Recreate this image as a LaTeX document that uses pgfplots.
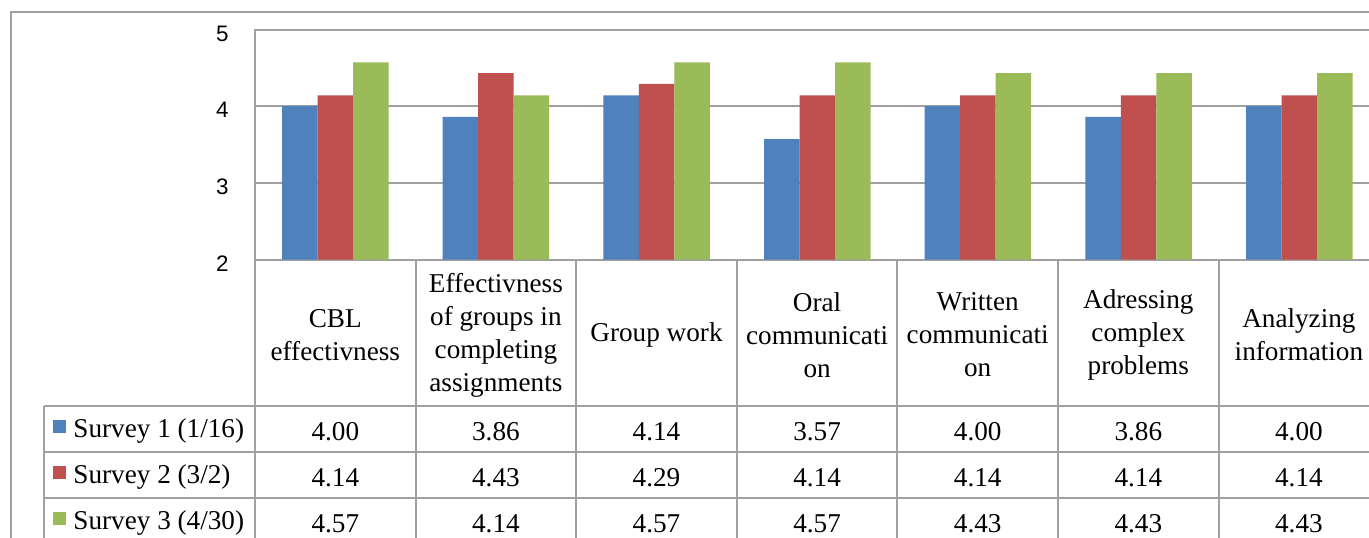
\documentclass[border=0pt]{standalone}
\usepackage{fontspec}
\setmainfont{Liberation Serif}
\newfontfamily\numfont{Liberation Sans}
\usepackage{pgfplots}
\pgfplotsset{compat=1.18}
\definecolor{sblue}{HTML}{4F81BD}
\definecolor{sred}{HTML}{C0504D}
\definecolor{sgreen}{HTML}{9BBB59}
\definecolor{gridgray}{HTML}{A0A0A0}
\begin{document}
\begin{tikzpicture}[x=0.5pt,y=0.5pt]
\begin{scope}
\clip (0,0) rectangle (1369,537);
\fill[white] (0,0) rectangle (1369,537);
% outer chart border
\draw[gridgray, line width=1pt] (11,-20) -- (11,524.5) -- (1420,524.5);
\begin{axis}[at={(127.5pt,138.75pt)}, anchor=south west, scale only axis,
  width=562.3pt, height=115pt, xmin=0, xmax=7, ymin=2, ymax=5,
  ybar=0pt, bar width=17.75pt,
  ytick={2,3,4,5}, yticklabels={2,3,4,5}, xtick=\empty,
  ymajorgrids, grid style={gridgray, line width=1pt},
  axis line style={gridgray, line width=1pt},
  major tick length=0pt,
  yticklabel style={font=\numfont\fontsize{11.2}{13}\selectfont, anchor=east, inner sep=0pt, xshift=-13pt, yshift=-2pt}]
\addplot[fill=sblue, draw=none] coordinates {(0.5,4.00) (1.5,3.86) (2.5,4.14) (3.5,3.57) (4.5,4.00) (5.5,3.86) (6.5,4.00)};
\addplot[fill=sred, draw=none] coordinates {(0.5,4.14) (1.5,4.43) (2.5,4.29) (3.5,4.14) (4.5,4.14) (5.5,4.14) (6.5,4.14)};
\addplot[fill=sgreen, draw=none] coordinates {(0.5,4.57) (1.5,4.14) (2.5,4.57) (3.5,4.57) (4.5,4.43) (5.5,4.43) (6.5,4.43)};
\end{axis}
% table grid
\foreach \k in {0,...,7} {
  \draw[gridgray, line width=1pt] ({255+160.6*\k},277.5) -- ({255+160.6*\k},-20);
}
\foreach \yy in {131,85,39} {
  \draw[gridgray, line width=1pt] (44,\yy) -- (1420,\yy);
}
\draw[gridgray, line width=1pt] (44,131) -- (44,-20);
% category headers
\begin{scope}[every node/.style={align=center, font=\fontsize{13.6}{16.5}\selectfont, inner sep=0pt}]
\node at (335.3,202) {CBL\\effectivness};
\node at (495.9,202) {Effectivness\\of groups in\\completing\\assignments};
\node at (656.5,202) {Group work};
\node at (817.1,202) {Oral\\communicati\\on};
\node at (977.7,202) {Written\\communicati\\on};
\node at (1138.3,202) {Adressing\\complex\\problems};
\node at (1298.9,202) {Analyzing\\information};
\end{scope}
% legend keys and labels
\fill[sblue] (53,104.5) rectangle (66,117.5);
\fill[sred] (53,58.5) rectangle (66,71.5);
\fill[sgreen] (53,12.5) rectangle (66,25.5);
\begin{scope}[every node/.style={anchor=base west, font=\fontsize{13.6}{16.5}\selectfont, inner sep=0pt}]
\node at (73,100) {Survey 1 (1/16)};
\node at (73,54) {Survey 2 (3/2)};
\node at (73,8) {Survey 3 (4/30)};
\end{scope}
% table values
\begin{scope}[every node/.style={anchor=base, font=\fontsize{13.6}{16.5}\selectfont, inner sep=0pt}]
\foreach \v [count=\i from 0] in {4.00,3.86,4.14,3.57,4.00,3.86,4.00} {
  \node at ({335.3+160.6*\i},97) {\v};
}
\foreach \v [count=\i from 0] in {4.14,4.43,4.29,4.14,4.14,4.14,4.14} {
  \node at ({335.3+160.6*\i},51) {\v};
}
\foreach \v [count=\i from 0] in {4.57,4.14,4.57,4.57,4.43,4.43,4.43} {
  \node at ({335.3+160.6*\i},5) {\v};
}
\end{scope}
\end{scope}
\pgfresetboundingbox
\useasboundingbox (0,0) rectangle (1369,537);
\end{tikzpicture}
\end{document}
